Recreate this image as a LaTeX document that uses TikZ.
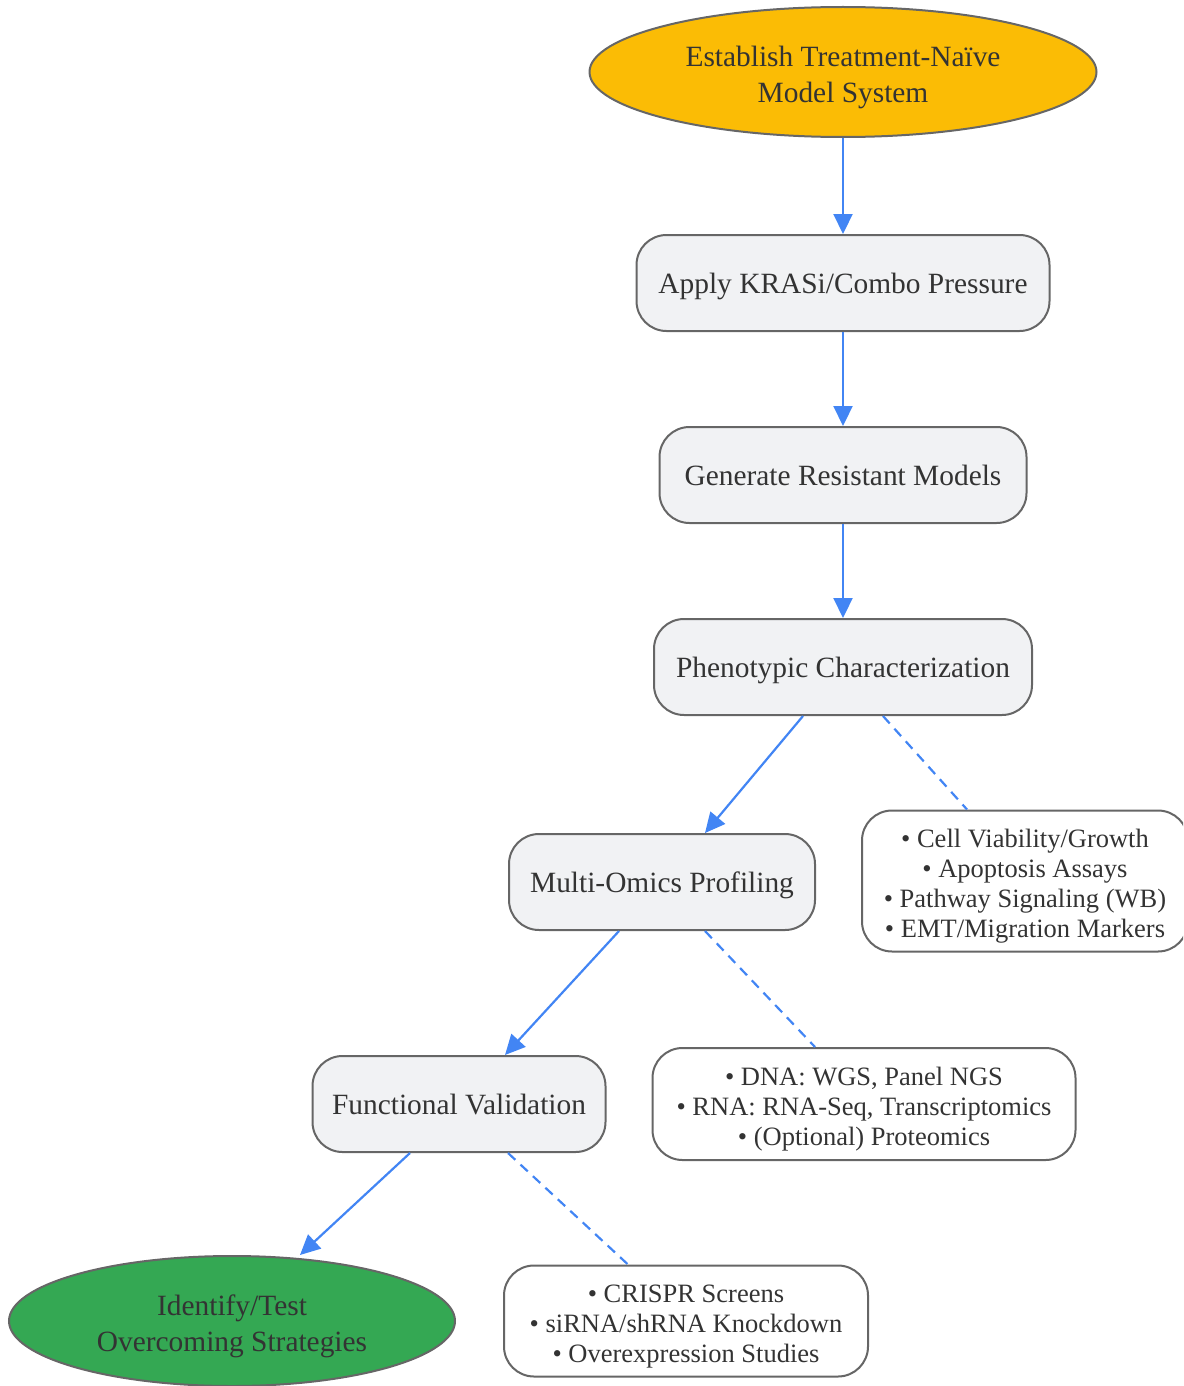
\documentclass[tikz,border=0pt]{standalone}
\usepackage{fontspec}
\setmainfont{Liberation Serif}
\usetikzlibrary{shapes.geometric,arrows.meta}
\definecolor{edgeblue}{HTML}{4285F4}
\definecolor{boxgray}{HTML}{F1F2F4}
\definecolor{startyellow}{HTML}{FBBC05}
\definecolor{endgreen}{HTML}{34A853}
\definecolor{linegray}{HTML}{666666}
\definecolor{txtgray}{HTML}{333333}

\begin{document}
\begin{tikzpicture}
  [x=1pt,y=-1pt,
   every node/.style={draw=linegray,line width=2pt,text=txtgray,inner sep=0pt},
   bigtext/.style={font=\fontsize{29.4}{36}\selectfont,text depth=6.4pt},
   smalltext/.style={font=\fontsize{26.5}{30}\selectfont,text depth=5.8pt},
   oval/.style={ellipse,bigtext,align=center,text height=67pt},
   stepbox/.style={rounded corners=30pt,fill=boxgray,minimum height=96pt,bigtext,text height=28pt},
   notebox/.style={rounded corners=30pt,fill=white,align=center,smalltext},
   flow/.style={draw=edgeblue,line width=2.2pt,-{Triangle[length=20pt,width=19pt]}},
   aside/.style={draw=edgeblue,line width=2.2pt,dash pattern=on 10pt off 7pt}]
  \useasboundingbox (0,0) rectangle (1183,1386);
  \clip (0,0) rectangle (1183,1386);
  \node[oval,fill=startyellow,minimum width=507pt,minimum height=130pt] (nest) at (843,72)
    {Establish Treatment-Naïve\\Model System};
  \node[stepbox,minimum width=413pt] (nkras) at (843,283) {Apply KRASi/Combo Pressure};
  \node[stepbox,minimum width=367pt] (ngen) at (843,475) {Generate Resistant Models};
  \node[stepbox,minimum width=378pt] (nphen) at (843,667) {Phenotypic Characterization};
  \node[stepbox,minimum width=306pt] (nomics) at (662,882) {Multi-Omics Profiling};
  \node[stepbox,minimum width=293pt] (nfunc) at (459,1104) {Functional Validation};
  \node[oval,fill=endgreen,minimum width=446pt,minimum height=130pt] (nident) at (232,1321)
    {Identify/Test\\Overcoming Strategies};
  \node[notebox,text height=119pt,minimum width=326pt,minimum height=141pt] (ncell) at (1025,881)
    {• Cell Viability/Growth\\• Apoptosis Assays\\• Pathway Signaling (WB)\\• EMT/Migration Markers};
  \node[notebox,text height=88pt,minimum width=423pt,minimum height=112pt] (ndna) at (864,1104)
    {• DNA: WGS, Panel NGS\\• RNA: RNA-Seq, Transcriptomics\\• (Optional) Proteomics};
  \node[notebox,text height=88pt,minimum width=364pt,minimum height=111pt] (ncrispr) at (686,1321)
    {• CRISPR Screens\\• siRNA/shRNA Knockdown\\• Overexpression Studies};

  \draw[flow] (nest) -- (nkras);
  \draw[flow] (nkras) -- (ngen);
  \draw[flow] (ngen) -- (nphen);
  \draw[flow] ([xshift=-40pt]nphen.south) -- ([xshift=43pt]nomics.north);
  \draw[aside] ([xshift=40pt]nphen.south) -- ([xshift=-58pt]ncell.north);
  \draw[flow] ([xshift=-43pt]nomics.south) -- ([xshift=46pt]nfunc.north);
  \draw[aside] ([xshift=43pt]nomics.south) -- ([xshift=-49pt]ndna.north);
  \draw[flow] ([xshift=-49pt]nfunc.south) -- (nident.north -| 300,0);
  \draw[aside] ([xshift=49pt]nfunc.south) -- ([xshift=-58pt]ncrispr.north);
\end{tikzpicture}
\end{document}
